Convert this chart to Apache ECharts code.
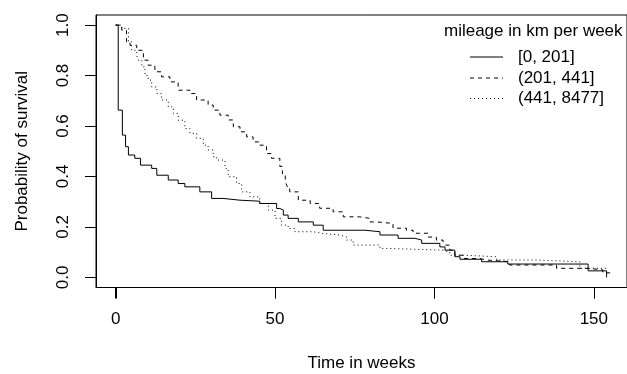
<!DOCTYPE html>
<html><head><meta charset="utf-8">
<script src="https://cdn.jsdelivr.net/npm/echarts@6/dist/echarts.min.js"></script>
<style>html,body{margin:0;padding:0;background:#fff}#c{width:627px;height:374px}</style>
</head><body><div id="c"></div>
<script>
// ---- data ----
const xTicks = [0, 50, 100, 150];
const yTicks = [0, 0.2, 0.4, 0.6, 0.8, 1.0];
const legendTitle = 'mileage in km per week';
const groupNames = ['[0, 201]', '(201, 441]', '(441, 8477]'];

// group 1: [0, 201]  (solid)
const t1 = [0, 0.8, 2.1, 3.1, 4.0, 6.0, 7.8, 11.3, 12.9, 16.5, 19.6, 21.7, 26.4, 30.1, 33.7, 39, 45.2, 50.5, 51.5, 52.6, 54.1, 57.3, 62, 65.1, 78.2, 82.9, 88.6, 93.9, 96, 101.7, 103.3, 106.4, 108, 114.8, 123, 148.2, 154];
const s1 = [1.0, 0.663, 0.564, 0.518, 0.485, 0.472, 0.445, 0.432, 0.405, 0.386, 0.372, 0.359, 0.339, 0.313, 0.306, 0.302, 0.293, 0.273, 0.267, 0.247, 0.234, 0.220, 0.207, 0.187, 0.181, 0.168, 0.155, 0.148, 0.135, 0.121, 0.108, 0.082, 0.072, 0.062, 0.053, 0.026, 0.0];

// group 2: (201, 441]  (dashed)
const t2 = [0, 1.9, 3.4, 4.5, 6.6, 8.7, 10.2, 12.3, 14.4, 17, 19.6, 23.3, 25.4, 29, 30.6, 32.7, 35.3, 36.9, 39, 41.1, 43.1, 45.2, 47.3, 48.9, 51.5, 52.3, 53.2, 53.8, 54.6, 57.3, 61, 64, 68.2, 71.4, 76.6, 79.7, 81.8, 87, 91.2, 93.3, 98, 100.6, 102.7, 103.3, 104.8, 106.4, 109, 114.2, 116.3, 123.6, 138.3, 148.2, 152.8, 156];
const s2 = [1.0, 0.98, 0.934, 0.92, 0.90, 0.861, 0.841, 0.815, 0.795, 0.775, 0.742, 0.729, 0.703, 0.683, 0.663, 0.643, 0.624, 0.597, 0.577, 0.557, 0.537, 0.524, 0.491, 0.472, 0.44, 0.41, 0.38, 0.36, 0.339, 0.306, 0.293, 0.274, 0.26, 0.24, 0.234, 0.22, 0.214, 0.195, 0.187, 0.175, 0.16, 0.148, 0.14, 0.128, 0.108, 0.088, 0.075, 0.069, 0.062, 0.049, 0.036, 0.03, 0.018, 0.018];

// group 3: (441, 8477]  (dotted)
const t3 = [0, 1.9, 4.0, 5.0, 6.6, 7.1, 8.2, 9.2, 10.2, 11.3, 12.9, 14.4, 16.5, 18.1, 19.6, 21.7, 23.3, 25.4, 27.5, 29, 30.6, 31.7, 34.3, 35.3, 37.9, 39.5, 42.1, 45.2, 47.9, 50, 52, 54.1, 56.2, 62, 65.1, 70.3, 72.4, 74.5, 82.9, 85, 102.7, 104.8, 109, 119.5, 132, 145.6, 154];
const s3 = [1.0, 0.987, 0.934, 0.90, 0.88, 0.861, 0.835, 0.80, 0.782, 0.755, 0.729, 0.703, 0.676, 0.65, 0.623, 0.59, 0.571, 0.551, 0.524, 0.505, 0.478, 0.465, 0.432, 0.399, 0.372, 0.339, 0.319, 0.293, 0.267, 0.234, 0.207, 0.194, 0.181, 0.174, 0.168, 0.161, 0.148, 0.128, 0.115, 0.108, 0.101, 0.088, 0.082, 0.069, 0.062, 0.036, 0.036];

// ---- build step data ----
function kmSteps(t, s) {
  const pts = [];
  for (let i = 0; i < t.length; i++) {
    if (i > 0) pts.push([t[i], s[i - 1]]);
    pts.push([t[i], s[i]]);
  }
  return pts;
}
const dashes = ['solid', [4, 4], [1, 3]];
const seriesData = [kmSteps(t1, s1), kmSteps(t2, s2), kmSteps(t3, s3)];

const FONT = 'Liberation Sans, Arial, sans-serif';
const Y_MIN = -0.04, Y_MAX = 1.04;
const chart = echarts.init(document.getElementById('c'), null, {renderer: 'canvas'});

const legendRows = [57, 78, 98.5];
const graphics = [{
  type: 'text', x: 444, y: 31, style: {text: legendTitle, font: '17px ' + FONT, fill: '#000', verticalAlign: 'middle'}
}];
groupNames.forEach((n, i) => {
  graphics.push({type: 'line', shape: {x1: 470, y1: legendRows[i], x2: 503, y2: legendRows[i]},
    style: {stroke: '#000', lineWidth: 1, lineDash: i === 0 ? null : dashes[i]}});
  graphics.push({type: 'text', x: 518, y: legendRows[i], style: {text: n, font: '17px ' + FONT, fill: '#000', verticalAlign: 'middle'}});
});

chart.setOption({
  animation: false,
  backgroundColor: '#fff',
  grid: {left: 96, top: 15, width: 531, height: 272.5, outerBoundsMode: 'none', containLabel: false,
    show: true, borderColor: '#000', borderWidth: 1, backgroundColor: 'transparent'},
  xAxis: {
    type: 'value', min: -6.17, max: 160.4,
    name: 'Time in weeks', nameLocation: 'middle', nameGap: 67,
    nameTextStyle: {fontFamily: FONT, fontSize: 17, color: '#000'},
    axisLine: {show: true, onZero: false, lineStyle: {color: '#000', width: 1}},
    splitLine: {show: false},
    axisTick: {show: true, inside: false, customValues: xTicks, length: 11, lineStyle: {color: '#000', width: 1}},
    axisLabel: {customValues: xTicks, margin: 23, fontFamily: FONT, fontSize: 17, color: '#000'}
  },
  yAxis: {
    type: 'value', min: Y_MIN, max: Y_MAX,
    name: 'Probability of survival', nameLocation: 'middle', nameGap: 65,
    nameTextStyle: {fontFamily: FONT, fontSize: 17, color: '#000'},
    axisLine: {show: true, onZero: false, lineStyle: {color: '#000', width: 1}},
    splitLine: {show: false},
    axisTick: {show: true, inside: false, customValues: yTicks, length: 11, lineStyle: {color: '#000', width: 1}},
    axisLabel: {customValues: yTicks, rotate: 90, margin: 24, fontFamily: FONT, fontSize: 17, color: '#000',
      formatter: v => v.toFixed(1)}
  },
  series: seriesData.map((d, i) => ({
    type: 'line', name: groupNames[i], data: d, showSymbol: false, symbol: 'none',
    lineStyle: {color: '#000', width: 1, type: dashes[i]}, silent: true, clip: true
  })),
  graphic: graphics
});

// x-axis tick marks placed through the library's own scale
xTicks.forEach(v => {
  const p = chart.convertToPixel({gridIndex: 0}, [v, Y_MIN]);
  const px = Math.round(p[0]) + 0.5;
  graphics.push({type: 'line', shape: {x1: px, y1: p[1], x2: px, y2: p[1] + 11},
    style: {stroke: '#000', lineWidth: 1}});
});
chart.setOption({graphic: graphics});
</script></body></html>
